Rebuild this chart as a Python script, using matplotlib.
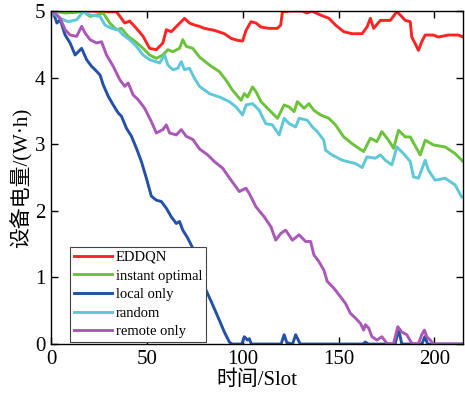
import matplotlib.pyplot as plt

# values (slot, W·h)
eddqn_x = [0, 10, 20, 30, 34.1, 38.4, 41, 44.5, 48, 51.4, 54.9, 58.3, 60.1, 62.7, 66.1, 69.6,
           72.2, 74.8, 77.4, 80, 85.2, 90.4, 93.9, 97.3, 99.9, 101.7, 104.3, 106.9, 109.5,
           113.8, 118.1, 119.8, 120.7, 125, 131, 133.5, 136, 140.6, 145, 148.4, 152.7, 157,
           162.3, 164.8, 166.6, 168.3, 171.8, 177, 180.4, 182.2, 184.8, 187.4, 188.2, 190,
           191.7, 193.4, 195.2, 199.5, 202, 207.3, 212.5, 215]
eddqn_y = [5.0, 4.98, 5.0, 4.99, 4.99, 4.82, 4.85, 4.74, 4.62, 4.44, 4.42, 4.52, 4.72, 4.69,
           4.79, 4.89, 4.82, 4.79, 4.77, 4.74, 4.71, 4.66, 4.59, 4.56, 4.55, 4.71, 4.84, 4.82,
           4.76, 4.74, 4.74, 4.79, 4.99, 5.0, 5.0, 4.97, 5.0, 4.94, 4.89, 4.79, 4.69, 4.66,
           4.66, 4.76, 4.89, 4.74, 4.86, 4.86, 4.99, 4.94, 4.86, 4.84, 4.61, 4.51, 4.41, 4.54,
           4.64, 4.64, 4.61, 4.64, 4.64, 4.61]

optimal_x = [0, 8, 13, 16.8, 20.3, 23.7, 27.2, 30.6, 34.1, 36.7, 40.2, 43.6, 48, 51.4, 54.9,
             58.3, 60.9, 63.5, 67, 68.7, 70.5, 73.9, 77.4, 82.6, 87.8, 91.3, 94.7, 99.1,
             100.8, 102.5, 105.1, 106.9, 109.5, 112.9, 118.1, 121.6, 124.2, 126.8, 128.5, 132,
             134.5, 137.1, 140.6, 144.9, 148.4, 152.7, 157, 160.5, 163.1, 166.6, 170, 172.6,
             176.1, 178.7, 181.3, 184.8, 187.4, 192.6, 195.2, 199.5, 205.6, 210.8, 215]
optimal_y = [5.0, 4.97, 4.99, 4.99, 4.92, 4.94, 4.97, 4.82, 4.72, 4.74, 4.62, 4.55, 4.44, 4.34,
             4.29, 4.34, 4.42, 4.39, 4.44, 4.57, 4.47, 4.44, 4.31, 4.19, 4.09, 3.96, 3.81, 3.66,
             3.76, 3.71, 3.86, 3.79, 3.64, 3.54, 3.39, 3.59, 3.56, 3.49, 3.64, 3.54, 3.61,
             3.51, 3.44, 3.39, 3.29, 3.11, 3.01, 2.94, 2.89, 3.09, 3.04, 3.19, 3.06, 2.94, 3.21,
             3.11, 3.11, 2.84, 3.06, 2.99, 2.96, 2.86, 2.74]

local_x = [0, 1.2, 3, 4.7, 7.3, 9.9, 12.5, 15.9, 18.5, 21.1, 22.9, 25.5, 27.2, 29.8, 32.4,
           35, 36.7, 39.3, 41.9, 44.5, 47.1, 49.7, 52.3, 54.9, 57.5, 60.1, 62.7, 65.3, 67,
           68.7, 71.3, 73.9, 76.5, 80, 83.5, 87, 90.4, 93, 94.5, 99.5, 100.8, 102.5, 103.4,
           104.5, 120, 121.6, 123, 126, 127.6, 130, 162.5, 164, 165.5, 179.5, 181.3, 183,
           193.5, 195, 196.5, 215]
local_y = [5.0, 4.97, 4.82, 4.87, 4.64, 4.52, 4.34, 4.44, 4.27, 4.17, 4.12, 4.04, 3.89, 3.72,
           3.59, 3.47, 3.42, 3.24, 3.12, 2.94, 2.74, 2.49, 2.22, 2.16, 2.14, 2.04, 1.91, 1.81,
           1.84, 1.71, 1.59, 1.44, 1.16, 0.86, 0.64, 0.41, 0.18, 0.03, 0.0, 0.0, 0.11, 0.06,
           0.08, 0.0, 0.0, 0.14, 0.02, 0.0, 0.14, 0.0, 0.0, 0.03, 0.0, 0.0, 0.22, 0.0, 0.0,
           0.11, 0.0, 0.0]

random_x = [0, 2, 4.7, 9, 13.3, 16.8, 20.3, 25.5, 28.1, 31.5, 35, 37.6, 41, 44.5, 48, 51.4,
            56.6, 59.2, 60.9, 63.5, 66.1, 67.9, 69.6, 72.2, 74.8, 77.4, 82.6, 87.8, 93, 96.5,
            99.9, 101.7, 105.1, 108.6, 112, 115.5, 119, 121.6, 124.2, 127.6, 129.4, 133.7,
            136.3, 138.9, 142.3, 143.2, 146.6, 151.9, 158.8, 162.3, 164.8, 169.2, 171.8,
            174.4, 177.8, 180.4, 183.9, 187.4, 189.1, 191.7, 195.2, 196.9, 200.4, 205.6,
            210.8, 214.2, 215]
random_y = [5.0, 4.95, 4.89, 4.84, 4.87, 4.99, 4.94, 4.92, 4.79, 4.74, 4.72, 4.64, 4.57, 4.47,
            4.34, 4.27, 4.22, 4.34, 4.19, 4.12, 4.14, 4.24, 4.12, 4.14, 3.99, 3.87, 3.76, 3.71,
            3.64, 3.56, 3.44, 3.59, 3.61, 3.51, 3.31, 3.29, 3.14, 3.39, 3.31, 3.26, 3.39, 3.36,
            3.26, 3.19, 3.06, 2.91, 2.84, 2.76, 2.71, 2.65, 2.81, 2.79, 2.84, 2.76, 2.69, 2.96,
            2.86, 2.74, 2.51, 2.49, 2.76, 2.61, 2.46, 2.49, 2.39, 2.21, 2.2]

remote_x = [0, 2.1, 4.7, 7.3, 9.9, 13.3, 15.9, 17.7, 20.3, 23.7, 26.3, 28.9, 32.4, 35.8, 38.4,
            40.2, 42.8, 45.4, 48.8, 52.3, 54.9, 58.3, 60.1, 61.8, 65.3, 67.9, 70.5, 74, 77.4,
            81.7, 85.2, 89.5, 93.9, 98.2, 101.7, 103.4, 106.9, 111.2, 114.7, 117.2, 119.8,
            122.4, 125.9, 129.4, 132.8, 135.4, 137.1, 139.7, 142.3, 144.1, 147.5, 151, 153.6,
            156.2, 158.8, 161.4, 163.1, 164, 165.7, 167.4, 170, 172.6, 175.2, 178.6, 180.9,
            183, 185.6, 188.2, 191.6, 193.4, 194.8, 196, 197.8, 199.5, 215]
remote_y = [5.0, 4.97, 4.89, 4.72, 4.64, 4.62, 4.77, 4.67, 4.57, 4.52, 4.54, 4.34, 4.17, 3.97,
            3.87, 3.92, 3.74, 3.67, 3.54, 3.34, 3.17, 3.22, 3.29, 3.17, 3.14, 3.22, 3.12, 3.07,
            2.93, 2.84, 2.74, 2.64, 2.46, 2.29, 2.34, 2.26, 2.06, 1.91, 1.76, 1.56, 1.66, 1.71,
            1.56, 1.64, 1.54, 1.54, 1.34, 1.24, 1.11, 0.94, 0.84, 0.71, 0.61, 0.46, 0.39, 0.31,
            0.21, 0.29, 0.24, 0.11, 0.06, 0.11, 0.01, 0.0, 0.26, 0.18, 0.14, 0.01, 0.0, 0.14,
            0.21, 0.11, 0.06, 0.0, 0.0]

plt.rcParams['font.family'] = ['Liberation Serif', 'Noto Sans CJK SC']
plt.rcParams['font.size'] = 15

fig = plt.figure(figsize=(4.65, 3.95), dpi=100)
ax = fig.add_axes([0.11, 0.129, 0.886, 0.843])

lw = 2.1
ax.plot(eddqn_x, eddqn_y, color='#ff2424', lw=lw, label='EDDQN')
ax.plot(optimal_x, optimal_y, color='#6cc23a', lw=lw, label='instant optimal')
ax.plot(local_x, local_y, color='#2350a8', lw=lw, label='local only')
ax.plot(random_x, random_y, color='#5ec8d8', lw=lw, label='random')
ax.plot(remote_x, remote_y, color='#aa58b8', lw=lw, label='remote only')

ax.set_xlim(0, 215)
ax.set_ylim(0, 5)
ax.set_xticks([0, 50, 100, 150, 200])
ax.set_yticks([0, 1, 2, 3, 4, 5])
ax.tick_params(direction='in', top=True, right=True, length=5, width=1, pad=4)
for s in ax.spines.values():
    s.set_linewidth(1.0)

ax.set_xlabel('时间/Slot', labelpad=1)
ax.set_ylabel('设备电量/(W·h)', labelpad=2)

leg = ax.legend(loc='lower left', bbox_to_anchor=(0.046, 0.006), fontsize=10.5,
                frameon=True, fancybox=False, edgecolor='#444444', framealpha=1,
                handlelength=2.6, handletextpad=0.3, labelspacing=0.37,
                borderpad=0.25, borderaxespad=0)
leg.get_frame().set_linewidth(0.8)

fig.savefig('out.png', dpi=100)
